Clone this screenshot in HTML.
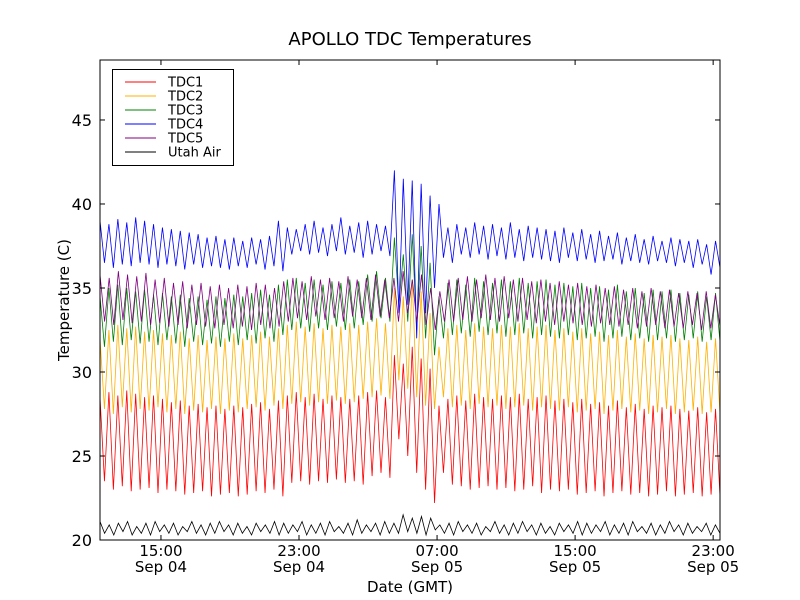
<!DOCTYPE html>
<html><head><meta charset="utf-8"><style>
body{margin:0;background:#fff;}
svg{display:block;font-family:"DejaVu Sans","Liberation Sans",sans-serif;}
</style></head><body>
<svg id="chart" width="800" height="600">
<rect x="0" y="0" width="800" height="600" fill="#fff"/>
<text x="410" y="45" text-anchor="middle" font-size="18">APOLLO TDC Temperatures</text>
<text x="410" y="592" text-anchor="middle" font-size="15">Date (GMT)</text>
<text transform="translate(69,300) rotate(-90)" text-anchor="middle" font-size="15">Temperature (C)</text>
<g id="series"></g>
<g id="axes"></g>
<g id="legend"></g>
</svg>
<script>
const yTicks=[20,25,30,35,40,45];
const xTickHours=[3.533,11.533,19.533,27.533,35.533];
const xTickTime=["15:00","23:00","07:00","15:00","23:00"];
const xTickDate=["Sep 04","Sep 04","Sep 05","Sep 05","Sep 05"];
const seriesNames=["TDC1","TDC2","TDC3","TDC4","TDC5","Utah Air"];
const seriesColors=["#ff0000","#ffb000","#008000","#0000ff","#800080","#000000"];
const tdc1=[28.5,23.5,28.8,23,28.6,23.2,28.9,22.9,28.7,23,28.5,23.1,28.6,22.8,28.4,23,28.2,22.9,28.3,22.7,28,22.8,28.1,22.9,27.9,22.6,28,22.7,27.8,22.8,28,22.6,27.9,22.7,28.1,22.9,28.2,22.8,27.8,23,28.3,22.6,28.6,23.4,28.8,23.5,28.5,23.3,28.7,23.5,28.4,23.4,28.6,23.6,28.5,23.4,28.4,23.5,28.6,23.3,28.8,23.8,28.9,24,28.5,23.7,31,26,30.5,25,31.5,24,30.8,23,30.2,22.2,28,24,28.4,23.3,28.6,23.2,28.3,23,28.7,23.1,28.5,23.2,28.4,23,28.6,23.1,28.5,22.9,28.7,23,28.4,23.2,28.5,22.8,28.6,23,28.3,22.9,28.4,23,28.2,22.7,28.4,22.8,28.1,22.9,28.2,22.6,28,22.8,28.3,22.9,27.9,22.7,28.1,22.8,27.8,22.6,28,22.7,27.9,22.9,28,22.6,27.8,22.7,27.7,22.8,27.9,22.6,27.6,22.7,27.8,22.6];
const tdc2=[32,27.8,32.5,27.5,32.8,27.9,32.6,27.6,32.7,27.8,32.4,27.7,32.5,27.9,32.3,27.6,32.2,27.8,32.4,27.5,32,27.7,32.2,27.6,31.9,27.8,32.1,27.5,32,27.7,32.3,27.6,32,27.8,32.2,27.9,32.4,27.7,32.1,28,32.6,27.8,32.8,28.1,33,28.2,32.7,28,32.9,28.2,32.6,28.1,32.8,28.3,32.7,28.1,32.9,28.2,32.8,28.4,33,28.5,33.2,28.6,32.9,28.4,35,29.5,34.5,29,35.5,28.5,34.8,28,33.5,27.8,31.5,28.5,32.6,27.9,32.8,28,32.5,27.8,32.9,28.1,32.7,27.9,32.6,28,32.8,27.8,32.7,27.9,32.9,28,32.6,27.7,32.7,27.9,32.8,27.8,32.5,27.7,32.6,27.9,32.4,27.6,32.6,27.7,32.3,27.8,32.4,27.5,32.2,27.7,32.5,27.8,32.1,27.6,32.3,27.7,32,27.5,32.2,27.6,32.1,27.8,32.2,27.5,32,27.6,31.9,27.7,32.1,27.5,31.8,27.6,32,27.5];
const tdc3=[34.5,31.5,35,31.8,35.2,31.6,35,31.9,34.8,31.7,34.9,31.8,34.6,31.6,34.7,31.9,34.5,31.7,34.6,31.5,34.4,31.8,34.5,31.6,34.3,31.7,34.5,31.5,34.4,31.8,34.6,31.6,34.5,31.9,34.7,31.7,34.9,32,34.6,31.8,35.2,32.2,35.5,32.5,35.6,32.6,35.3,32.4,35.5,32.6,35.2,32.5,35.4,32.7,35.3,32.5,35.5,32.6,35.4,32.8,35.8,33,36,33.2,35.6,33,38,34,37,33,38.2,32.5,37.5,32,36.5,31,34.5,32,35.3,32.2,35.5,32.3,35.2,32.1,35.6,32.4,35.4,32.2,35.3,32.3,35.5,32.1,35.4,32.2,35.6,32.3,35.3,32,35.4,32.2,35.5,32.1,35.2,32,35.3,32.2,35.1,31.9,35.3,32,35,32.1,35.1,31.8,34.9,32,35.2,32.1,34.8,31.9,35,32,34.7,31.8,34.9,31.9,34.8,32,34.9,31.8,34.7,31.9,34.6,32,34.8,31.8,34.5,31.9,34.7,31.8];
const tdc4=[39,36.5,38.8,36.2,39.1,36.4,38.9,36.3,39.2,36.5,39,36.4,38.8,36.2,38.6,36.4,38.5,36.3,38.4,36.1,38.3,36.4,38.2,36.2,38,36.3,38.1,36.2,37.9,36.1,38,36.3,37.8,36.2,38,36.4,37.9,36.1,38.1,36.3,39,36,38.6,37,38.5,37.2,38.8,37,39,37.1,38.6,36.9,38.8,37.2,39.2,37,38.7,37.1,38.9,36.8,39,37,38.8,37.2,38.7,36.9,42,33.5,41.5,34,41.4,32,41.2,33.5,40.5,35,40,36.8,38.6,36.5,38.8,37,38.6,36.8,38.9,37,38.7,36.7,38.8,36.9,38.6,36.7,38.9,36.8,38.5,36.6,38.7,36.8,38.6,36.7,38.5,36.6,38.4,36.5,38.6,36.8,38.3,36.6,38.5,36.7,38.2,36.5,38.4,36.6,38.1,36.7,38.3,36.4,38,36.6,38.2,36.5,37.9,36.4,38.1,36.6,37.8,36.5,38,36.3,37.9,36.5,37.8,36.2,37.9,36.4,37.6,35.8,37.8,36.2];
const tdc5=[35.8,33,35.6,32.8,36,33.1,35.8,32.9,35.7,33,35.9,32.8,35.5,32.9,35.6,32.7,35.3,32.8,35.4,32.6,35.2,32.8,35.3,32.7,35.1,32.6,35.2,32.8,35,32.6,35.2,32.7,35.1,32.5,35.3,32.8,35.2,32.6,35,32.7,35.4,33,35.6,33.2,35.4,33.1,35.7,33.3,35.5,33.1,35.6,33.2,35.4,33,35.7,33.3,35.5,33.2,35.6,33.1,35.8,33.3,35.5,33.2,35.6,33,36,33.5,35.5,33,35.8,32.8,35,32.5,34.8,33,35.5,33,35.6,33.1,35.7,33,35.5,33.2,35.8,33.1,35.6,33,35.7,33.2,35.5,33,35.6,33.1,35.4,32.9,35.5,33,35.3,32.8,35.4,33,35.2,32.9,35.3,32.8,35.1,32.7,35.2,32.9,35,32.8,35.1,32.7,34.9,32.8,35,32.6,34.8,32.7,35,32.8,34.8,32.6,34.9,32.7,34.7,32.6,34.8,32.8,34.7,32.5,34.8,32.6,34.6,32.7];
const utahAir=[21.1,20.4,20.9,20.3,21,20.5,21.1,20.3,20.8,20.4,21,20.3,21.1,20.5,20.9,20.4,21,20.3,20.8,20.5,21.1,20.4,20.9,20.3,21,20.4,21.1,20.5,20.9,20.3,21,20.4,20.8,20.3,21,20.5,20.9,20.4,21.1,20.3,21,20.4,20.9,20.5,21.1,20.3,20.9,20.4,21,20.3,21.1,20.5,20.8,20.4,21,20.3,21.2,20.4,20.9,20.5,21,20.3,21.1,20.4,21,20.4,21.5,20.5,21.3,20.4,21.4,20.3,21.3,20.6,20.9,20.4,21,20.3,21.1,20.5,20.9,20.4,21,20.3,20.8,20.5,21.1,20.4,20.9,20.3,21,20.4,21.1,20.5,20.9,20.3,21,20.4,20.8,20.3,21,20.5,20.9,20.4,21.1,20.3,21,20.4,20.9,20.5,21.1,20.3,20.9,20.4,21,20.3,21.1,20.5,20.8,20.4,21,20.3,20.9,20.4,21.1,20.5,20.9,20.3,21,20.4,20.8,20.5,21,20.3,20.9,20.4];
const allSeries=[tdc1,tdc2,tdc3,tdc4,tdc5,utahAir];
const hourStart=0, hourEnd=35.93;

const PL=100,PR=720,PT=60,PB=540;
const yMin=20,yMax=48.57;
const xScale=h=>PL+(h-hourStart)/(hourEnd-hourStart)*(PR-PL);
const yScale=v=>PB-(v-yMin)/(yMax-yMin)*(PB-PT);
const NS="http://www.w3.org/2000/svg";
function mk(tag,attrs,parent){const e=document.createElementNS(NS,tag);for(const k in attrs)e.setAttribute(k,attrs[k]);parent.appendChild(e);return e;}

const sg=document.getElementById('series');
allSeries.forEach((vals,si)=>{
  const n=vals.length;
  const pts=vals.map((v,i)=>xScale(hourStart+i*(hourEnd-hourStart)/(n-1)).toFixed(2)+","+yScale(v).toFixed(2)).join(" ");
  const pl=mk('polyline',{points:pts,fill:'none',stroke:seriesColors[si],'stroke-width':0.8},sg);
  
  
});

const ag=document.getElementById('axes');
const frame=mk('rect',{x:PL,y:PT,width:PR-PL,height:PB-PT,fill:'none',stroke:'#000','stroke-width':1},ag);


yTicks.forEach(v=>{
  const y=yScale(v);
  mk('line',{x1:PL,x2:PL+5,y1:y,y2:y,stroke:'#000'},ag);
  mk('line',{x1:PR,x2:PR-5,y1:y,y2:y,stroke:'#000'},ag);
  const t=mk('text',{x:PL-8,y:y+6,'text-anchor':'end','font-size':16},ag);
  t.textContent=v;
  
  
});
xTickHours.forEach((h,i)=>{
  const x=xScale(h);
  mk('line',{x1:x,x2:x,y1:PB,y2:PB-5,stroke:'#000'},ag);
  mk('line',{x1:x,x2:x,y1:PT,y2:PT+5,stroke:'#000'},ag);
  const t=mk('text',{x:x,y:556,'text-anchor':'middle','font-size':15},ag);
  t.textContent=xTickTime[i];
  
  
  const d=mk('text',{x:x,y:572,'text-anchor':'middle','font-size':15},ag);
  d.textContent=xTickDate[i];
  
  
});

const lg=document.getElementById('legend');
mk('rect',{x:112.5,y:69.5,width:121,height:96,fill:'#fff',stroke:'#000','stroke-width':1},lg);
seriesNames.forEach((nm,i)=>{
  const y=82+i*14;
  const l=mk('line',{x1:125,x2:156,y1:y,y2:y,stroke:seriesColors[i],'stroke-width':1},lg);
  
  
  const t=mk('text',{x:168,y:y+4.5,'font-size':13},lg);
  t.textContent=nm;
  
  
});
</script>
</body></html>
